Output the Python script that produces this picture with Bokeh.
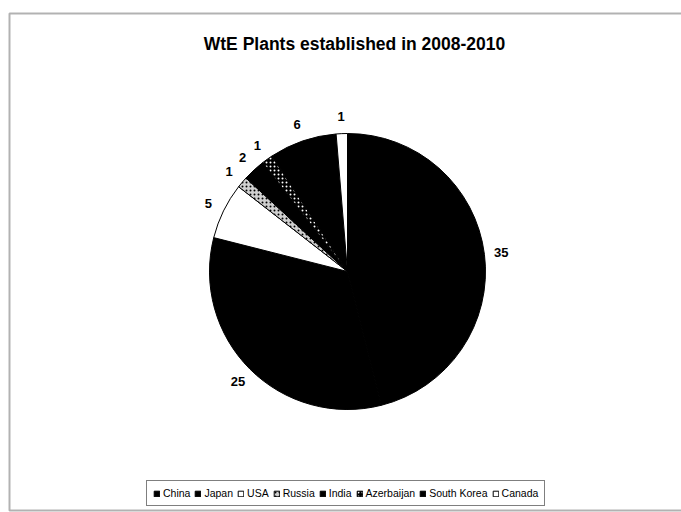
import numpy as np
from bokeh.plotting import figure
from bokeh.models import ColumnDataSource, Range1d, BoxAnnotation
from bokeh.core.properties import value
from bokeh.embed import file_html
from bokeh.resources import INLINE

title = "WtE Plants established in 2008-2010"
countries = ["China", "Japan", "USA", "Russia", "India", "Azerbaijan", "South Korea", "Canada"]
plants = [35, 25, 5, 1, 2, 1, 6, 1]
fills = ["black", "black", "white", "#d0d0d0", "black", "black", "black", "white"]
hatches = [" ", " ", " ", "dot", " ", "dot", " ", " "]
hatch_colors = ["black", "black", "black", "black", "black", "white", "black", "black"]

W, H = 681, 512
p = figure(width=W, height=H, output_backend="svg", toolbar_location=None,
           x_range=Range1d(0, W), y_range=Range1d(0, H), min_border=0)
p.axis.visible = False
p.grid.visible = False
p.outline_line_color = None
p.background_fill_color = "white"
p.border_fill_color = "white"

# chart frame
p.add_layout(BoxAnnotation(left=9, right=W + 20, top=499, bottom=2,
                           fill_color=None, line_color="black", line_width=2))

vals = np.array(plants, dtype=float)
frac = vals / vals.sum() * 2 * np.pi
cum_end = np.cumsum(frac)
cum_start = cum_end - frac
mid = (cum_start + cum_end) / 2

cx, cy, r, lr = 347, 241, 138, 155
src = ColumnDataSource(dict(
    country=countries, plants=plants, fill=fills, hatch=hatches, hcol=hatch_colors,
    start=np.pi / 2 - cum_start, end=np.pi / 2 - cum_end,
    lx=cx + lr * np.sin(mid), ly=cy + lr * np.cos(mid),
    lab=[str(v) for v in plants],
))

p.wedge(x=cx, y=cy, radius=r, start_angle="start", end_angle="end", direction="clock",
        fill_color="fill", line_color="black", line_width=1,
        hatch_pattern="hatch", hatch_color="hcol", hatch_scale=4, hatch_weight=1,
        source=src, legend_field="country")

p.text(x="lx", y="ly", text="lab", source=src, text_align="center", text_baseline="middle",
       text_font=value("Liberation Sans"), text_font_style="bold", text_font_size="13px",
       text_color="black")

p.text(x=[354], y=[469], text=[title], text_align="center", text_baseline="middle",
       text_font=value("Liberation Sans"), text_font_style="bold", text_font_size="17.5px",
       text_color="black")

lg = p.legend[0]
lg.location = (146, 6)
lg.orientation = "horizontal"
lg.label_text_font = "Liberation Sans"
lg.label_text_font_size = "10.5px"
lg.label_text_color = "black"
lg.glyph_width = 7
lg.glyph_height = 7
lg.label_standoff = 3
lg.spacing = 4
lg.padding = 6
lg.margin = 0
lg.label_height = 12
lg.label_width = 0
lg.border_line_color = "black"
lg.border_line_width = 1.5
lg.background_fill_color = "white"
lg.background_fill_alpha = 1

open("out.html", "w").write(file_html(p, INLINE))
